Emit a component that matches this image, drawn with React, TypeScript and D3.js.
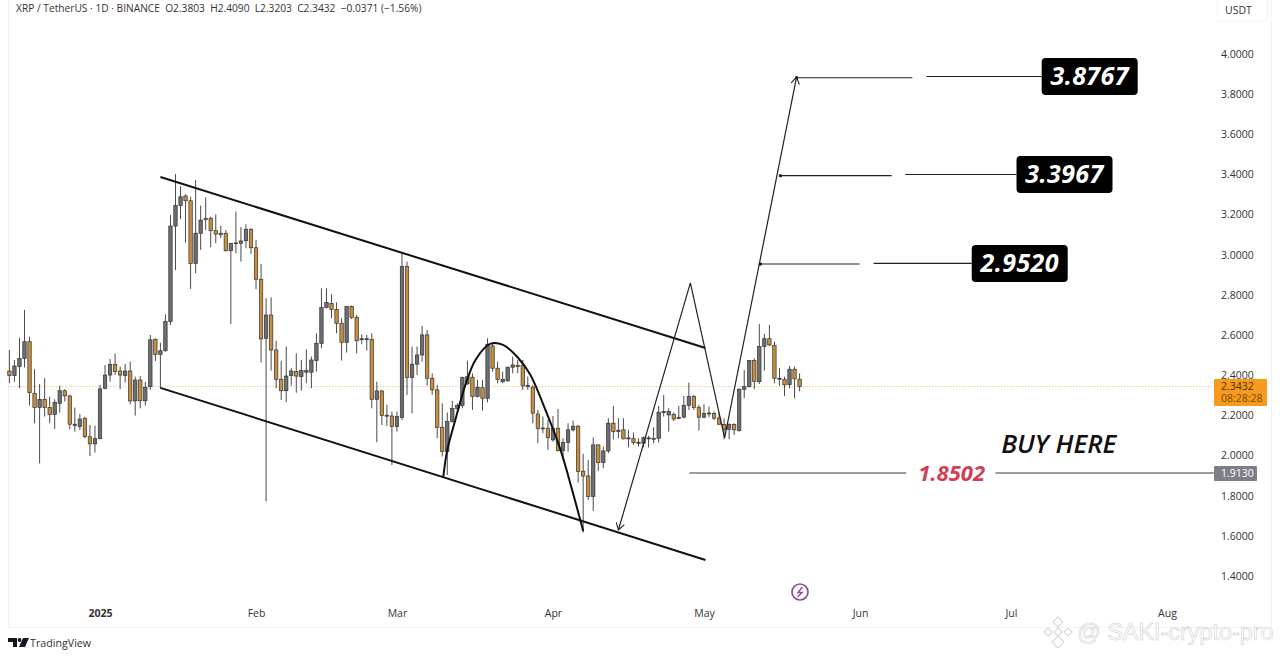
import React, { useEffect, useRef } from 'react';
import * as d3 from 'd3';

const opens = [
  2.421, 2.398, 2.443, 2.484, 2.567, 2.31, 2.24, 2.28, 2.239, 2.205,
  2.26, 2.323, 2.297, 2.149, 2.144, 2.185, 2.094, 2.058, 2.084, 2.335,
  2.401, 2.454, 2.421, 2.398, 2.421, 2.272, 2.376, 2.273, 2.343, 2.579,
  2.504, 2.522, 2.667, 3.143, 3.245, 3.293, 3.269, 2.957, 3.107, 3.18,
  3.182, 3.12, 3.107, 3.107, 3.02, 3.055, 3.057, 3.07, 3.127, 3.035,
  2.878, 2.584, 2.7, 2.526, 2.38, 2.323, 2.398, 2.418, 2.393, 2.415,
  2.415, 2.473, 2.559, 2.737, 2.758, 2.728, 2.659, 2.564, 2.742, 2.687,
  2.577, 2.577, 2.579, 2.28, 2.322, 2.196, 2.197, 2.144, 2.189, 2.941,
  2.388, 2.455, 2.501, 2.601, 2.385, 2.327, 2.139, 2.02, 2.169, 2.235,
  2.249, 2.357, 2.39, 2.294, 2.338, 2.285, 2.546, 2.435, 2.368, 2.372,
  2.44, 2.448, 2.448, 2.343, 2.34, 2.207, 2.133, 2.136, 2.078, 2.136,
  2.025, 2.065, 2.128, 2.146, 1.922, 1.898, 1.796, 2.053, 1.965, 2.023,
  2.161, 2.119, 2.128, 2.083, 2.084, 2.061, 2.061, 2.083, 2.086, 2.086,
  2.214, 2.202, 2.204, 2.184, 2.191, 2.25, 2.295, 2.239, 2.191, 2.207,
  2.209, 2.187, 2.154, 2.131, 2.154, 2.124, 2.33, 2.343, 2.473, 2.368,
  2.543, 2.582, 2.549, 2.38, 2.38, 2.353, 2.43, 2.3803,
];
const closes = [
  2.398, 2.446, 2.484, 2.567, 2.313, 2.24, 2.28, 2.24, 2.205, 2.264,
  2.323, 2.297, 2.156, 2.156, 2.182, 2.094, 2.058, 2.084, 2.332, 2.401,
  2.454, 2.418, 2.401, 2.421, 2.272, 2.376, 2.273, 2.34, 2.576, 2.504,
  2.522, 2.667, 3.143, 3.245, 3.289, 3.269, 2.957, 3.107, 3.173, 3.175,
  3.12, 3.103, 3.1, 3.02, 3.057, 3.059, 3.069, 3.127, 3.035, 2.878,
  2.581, 2.7, 2.526, 2.38, 2.323, 2.396, 2.421, 2.396, 2.423, 2.423,
  2.476, 2.559, 2.737, 2.763, 2.728, 2.659, 2.564, 2.742, 2.687, 2.572,
  2.582, 2.582, 2.28, 2.322, 2.199, 2.201, 2.144, 2.194, 2.941, 2.388,
  2.455, 2.501, 2.601, 2.385, 2.327, 2.139, 2.02, 2.169, 2.235, 2.249,
  2.388, 2.393, 2.294, 2.34, 2.285, 2.554, 2.435, 2.38, 2.38, 2.44,
  2.451, 2.443, 2.347, 2.35, 2.211, 2.134, 2.137, 2.089, 2.136, 2.025,
  2.065, 2.128, 2.146, 1.92, 1.898, 1.796, 2.053, 1.965, 2.023, 2.161,
  2.119, 2.126, 2.083, 2.088, 2.065, 2.066, 2.089, 2.088, 2.081, 2.216,
  2.219, 2.219, 2.182, 2.189, 2.25, 2.294, 2.239, 2.191, 2.209, 2.212,
  2.186, 2.156, 2.131, 2.154, 2.128, 2.33, 2.343, 2.473, 2.37, 2.543,
  2.582, 2.551, 2.385, 2.385, 2.352, 2.43, 2.382, 2.3432,
];
const highs = [
  2.526, 2.476, 2.587, 2.725, 2.592, 2.43, 2.356, 2.385, 2.293, 2.28,
  2.348, 2.33, 2.302, 2.239, 2.207, 2.194, 2.152, 2.149, 2.352, 2.451,
  2.481, 2.509, 2.443, 2.456, 2.468, 2.393, 2.396, 2.368, 2.6, 2.584,
  2.562, 2.703, 3.198, 3.402, 3.342, 3.301, 3.289, 3.372, 3.245, 3.286,
  3.19, 3.201, 3.145, 3.123, 3.057, 3.215, 3.137, 3.152, 3.132, 3.074,
  2.954, 2.783, 2.788, 2.572, 2.471, 2.543, 2.435, 2.509, 2.476, 2.529,
  2.493, 2.609, 2.833, 2.833, 2.803, 2.763, 2.684, 2.745, 2.747, 2.7,
  2.604, 2.601, 2.609, 2.368, 2.327, 2.252, 2.219, 2.219, 3.007, 2.966,
  2.543, 2.543, 2.647, 2.625, 2.41, 2.352, 2.26, 2.214, 2.272, 2.26,
  2.393, 2.473, 2.41, 2.377, 2.376, 2.584, 2.559, 2.468, 2.418, 2.443,
  2.493, 2.476, 2.476, 2.393, 2.352, 2.227, 2.194, 2.177, 2.197, 2.232,
  2.086, 2.161, 2.174, 2.152, 2.008, 1.978, 2.091, 2.056, 2.045, 2.186,
  2.247, 2.186, 2.186, 2.128, 2.114, 2.086, 2.094, 2.098, 2.141, 2.247,
  2.302, 2.235, 2.215, 2.247, 2.297, 2.363, 2.302, 2.252, 2.255, 2.244,
  2.219, 2.214, 2.186, 2.161, 2.161, 2.335, 2.426, 2.476, 2.484, 2.655,
  2.606, 2.65, 2.567, 2.435, 2.393, 2.446, 2.443, 2.409,
];
const lows = [
  2.36, 2.368, 2.335, 2.439, 2.249, 2.161, 1.961, 2.194, 2.161, 2.132,
  2.214, 2.269, 2.131, 2.119, 2.127, 2.086, 1.998, 2.015, 2.081, 2.33,
  2.368, 2.401, 2.33, 2.363, 2.255, 2.199, 2.235, 2.249, 2.327, 2.471,
  2.335, 2.517, 2.65, 2.924, 3.177, 3.06, 2.83, 2.908, 3.024, 3.123,
  3.037, 3.057, 3.082, 3.016, 2.655, 3.007, 2.966, 3.032, 3.004, 2.828,
  2.464, 1.771, 2.423, 2.335, 2.277, 2.265, 2.348, 2.313, 2.323, 2.36,
  2.335, 2.418, 2.534, 2.733, 2.684, 2.609, 2.473, 2.513, 2.68, 2.509,
  2.556, 2.523, 2.235, 2.066, 2.152, 2.147, 1.953, 2.119, 2.177, 2.302,
  2.21, 2.401, 2.468, 2.348, 2.302, 2.086, 1.995, 1.903, 2.164, 2.21,
  2.235, 2.352, 2.227, 2.29, 2.224, 2.265, 2.418, 2.36, 2.36, 2.368,
  2.41, 2.41, 2.327, 2.327, 2.161, 2.061, 2.111, 2.028, 2.069, 2.02,
  1.978, 2.02, 2.119, 1.865, 1.616, 1.779, 1.724, 1.923, 1.937, 2.011,
  2.081, 2.086, 2.081, 2.041, 2.053, 2.045, 2.041, 2.04, 2.061, 2.064,
  2.194, 2.119, 2.172, 2.181, 2.186, 2.227, 2.227, 2.124, 2.186, 2.191,
  2.177, 2.153, 2.081, 2.081, 2.103, 2.119, 2.285, 2.34, 2.33, 2.357,
  2.423, 2.546, 2.36, 2.347, 2.297, 2.335, 2.285, 2.3203,
];

const yTicks = [4, 3.8, 3.6, 3.4, 3.2, 3, 2.8, 2.6, 2.4, 2.2, 2, 1.8, 1.6, 1.4];
const monthLabels = ['2025', 'Feb', 'Mar', 'Apr', 'May', 'Jun', 'Jul', 'Aug'];

// drawings, as [bar index, price]
const upperChannel: [number, number][] = [[30, 3.387], [138.3, 2.536]];
const lowerChannel: [number, number][] = [[30, 2.337], [138.3, 1.48]];
const arc: [number, number][] = [
  [86.2, 1.893], [87, 2.028], [88.6, 2.177], [90.6, 2.352], [92.6, 2.476], [95.5, 2.556], [98.1, 2.551],
  [101.1, 2.486], [103.5, 2.402], [106.5, 2.227], [109.5, 2.028], [111.8, 1.829], [114, 1.624],
];
const zigzag: [number, number][] = [[121, 1.629], [135.3, 2.86], [142.1, 2.088], [156.4, 3.885]];

const targetLabels = ['3.8767', '3.3967', '2.9520'];
const targetLeft: [number, number, number][] = [[156.4, 179.4, 3.882], [153.2, 175.3, 3.394], [149.2, 168.9, 2.954]];
const targetRight: [number, number, number][] = [[182.2, 205.1, 3.888], [178, 200.1, 3.4], [171.7, 191.2, 2.957]];
const lastPrice = 2.3432;
const buyPrice = 1.913;

const FONT = '"Open Sans", sans-serif';
const ORANGE = '#c98d3c';
const GRAY = '#6e6e72';
const WIDTH = 1280;
const HEIGHT = 658;

export default function App() {
  const ref = useRef<SVGSVGElement | null>(null);

  useEffect(() => {
    const svg = d3.select(ref.current);
    svg.selectAll('*').remove();

    const firstBar = Date.UTC(2024, 11, 14);
    const xScale = d3.scaleUtc()
      .domain([new Date(Date.UTC(2025, 0, 1)), new Date(Date.UTC(2025, 7, 1))])
      .range([100, 1167]);
    const barX = (i: number) => xScale(new Date(firstBar + i * 86400000));
    const yScale = d3.scaleLinear().domain([4, 1.4]).range([54, 576]);
    const pt = (d: [number, number]): [number, number] => [barX(d[0]), yScale(d[1])];
    const line = d3.line<[number, number]>().x(d => pt(d)[0]).y(d => pt(d)[1]);

    // frame
    svg.append('rect').attr('width', WIDTH).attr('height', HEIGHT).attr('fill', '#fff');
    svg.append('path').attr('d', 'M8.5 0V627.5H1271.5V0').attr('fill', 'none').attr('stroke', '#f3f3f3');

    // header
    svg.append('text').attr('x', 16).attr('y', 12).attr('font-size', 10.2).attr('fill', '#333')
      .attr('font-family', FONT)
      .attr('xml:space', 'preserve')
      .text('XRP / TetherUS · 1D · BINANCE  O2.3803  H2.4090  L2.3203  C2.3432  −0.0371 (−1.56%)');

    // last price line
    svg.append('line').attr('x1', 8).attr('x2', 1214).attr('y1', yScale(lastPrice)).attr('y2', yScale(lastPrice))
      .attr('stroke', '#eccb94').attr('stroke-dasharray', '1.5 1.5');

    // candles
    const bars = d3.range(opens.length);
    const g = svg.append('g');
    g.selectAll('line.wick').data(bars).join('line').attr('class', 'wick')
      .attr('x1', i => barX(i)).attr('x2', i => barX(i))
      .attr('y1', i => yScale(highs[i])).attr('y2', i => yScale(lows[i]))
      .attr('stroke', '#4a4a4a').attr('stroke-width', 1);
    g.selectAll('rect.body').data(bars).join('rect').attr('class', 'body')
      .attr('x', i => barX(i) - 1.7).attr('width', 3.4)
      .attr('y', i => yScale(Math.max(opens[i], closes[i])))
      .attr('height', i => Math.max(0.6, Math.abs(yScale(opens[i]) - yScale(closes[i]))))
      .attr('fill', i => (closes[i] >= opens[i] ? GRAY : ORANGE))
      .attr('stroke', '#333').attr('stroke-width', 0.7);

    // channel, arc, zigzag
    [upperChannel, lowerChannel].forEach(c => {
      svg.append('path').attr('d', line(c)).attr('fill', 'none').attr('stroke', '#111').attr('stroke-width', 2);
    });
    svg.append('path').attr('d', line.curve(d3.curveCatmullRom)(arc)).attr('fill', 'none')
      .attr('stroke', '#111').attr('stroke-width', 2);
    line.curve(d3.curveLinear);
    svg.append('path').attr('d', line(zigzag)).attr('fill', 'none').attr('stroke', '#222').attr('stroke-width', 1.2);

    const arrowHead = (from: [number, number], to: [number, number]) => {
      const [x0, y0] = pt(from);
      const [x1, y1] = pt(to);
      const a = Math.atan2(y1 - y0, x1 - x0);
      const arm = (da: number) => `${x1 - 8 * Math.cos(a + da)},${y1 - 8 * Math.sin(a + da)}`;
      svg.append('path').attr('d', `M${arm(0.55)}L${x1},${y1}L${arm(-0.55)}`)
        .attr('fill', 'none').attr('stroke', '#222').attr('stroke-width', 1.1);
    };
    arrowHead(zigzag[1], zigzag[0]);
    arrowHead(zigzag[2], zigzag[3]);

    // targets
    targetLabels.forEach((label, i) => {
      const [a0, a1, p0] = targetLeft[i];
      const [b0, b1, p1] = targetRight[i];
      svg.append('line').attr('x1', barX(a0)).attr('x2', barX(a1)).attr('y1', yScale(p0)).attr('y2', yScale(p0))
        .attr('stroke', '#222').attr('stroke-width', 1.1);
      svg.append('line').attr('x1', barX(b0)).attr('x2', barX(b1)).attr('y1', yScale(p1)).attr('y2', yScale(p1))
        .attr('stroke', '#222').attr('stroke-width', 1.1);
      svg.append('circle').attr('cx', barX(a0)).attr('cy', yScale(p0)).attr('r', 1.7).attr('fill', '#222');
      const bx = barX(b1);
      const by = yScale(p1);
      svg.append('rect').attr('x', bx).attr('y', by - 18.5).attr('width', 96).attr('height', 37).attr('rx', 4).attr('fill', '#000');
      svg.append('text').attr('x', bx + 48).attr('y', by + 9).attr('text-anchor', 'middle')
        .attr('font-family', FONT).attr('font-weight', 700).attr('font-style', 'italic')
        .attr('font-size', 25).attr('letter-spacing', 0.4).attr('fill', '#fff').text(label);
    });

    // buy line
    const by = yScale(buyPrice);
    [[135.1, 178.2], [195.9, 239.3]].forEach(([a, b]) => {
      svg.append('line').attr('x1', barX(a)).attr('x2', barX(b)).attr('y1', by).attr('y2', by)
        .attr('stroke', '#7d7d7d').attr('stroke-width', 1.6);
    });
    svg.append('text').attr('x', barX(187.2)).attr('y', by + 7.5).attr('text-anchor', 'middle')
      .attr('font-family', FONT).attr('font-weight', 700).attr('font-style', 'italic')
      .attr('font-size', 22).attr('fill', '#d23f55').text('1.8502');
    svg.append('text').attr('x', barX(208.5)).attr('y', yScale(2.058) + 9).attr('text-anchor', 'middle')
      .attr('font-family', FONT).attr('font-weight', 600).attr('font-style', 'italic')
      .attr('font-size', 26).attr('fill', '#111').text('BUY HERE');

    // y axis
    const yAxis = d3.axisRight(yScale).tickValues(yTicks).tickFormat(d3.format('.4f') as any).tickSize(0).tickPadding(0);
    const yG = svg.append('g').attr('transform', 'translate(1221,0)').call(yAxis);
    yG.select('.domain').remove();
    yG.selectAll('text').attr('font-family', FONT).attr('font-size', 10.5).attr('fill', '#333');

    // x axis
    const xAxis = d3.axisBottom(xScale).tickValues(d3.utcMonth.range(new Date(Date.UTC(2025, 0, 1)), new Date(Date.UTC(2025, 7, 2))))
      .tickFormat((_, i) => monthLabels[i]).tickSize(0).tickPadding(0);
    const xG = svg.append('g').attr('transform', 'translate(0,610)').call(xAxis);
    xG.select('.domain').remove();
    xG.selectAll('text').attr('font-family', FONT).attr('font-size', 10.5).attr('fill', '#333')
      .attr('font-weight', (_, i) => (i === 0 ? 700 : 400));

    // price tags
    svg.append('rect').attr('x', 1214).attr('y', 379).attr('width', 53).attr('height', 27).attr('rx', 1).attr('fill', '#f79b1e');
    svg.append('text').attr('x', 1221).attr('y', yScale(lastPrice) + 3.5).attr('font-family', FONT).attr('font-size', 10.5)
      .attr('fill', '#4d3300').text('2.3432');
    svg.append('text').attr('x', 1221).attr('y', 402).attr('font-family', FONT).attr('font-size', 10.5)
      .attr('fill', '#7a4a05').text('08:28:28');
    svg.append('rect').attr('x', 1214).attr('y', by - 7).attr('width', 43).attr('height', 15).attr('rx', 1).attr('fill', '#7f7f89');
    svg.append('text').attr('x', 1221).attr('y', by + 4).attr('font-family', FONT).attr('font-size', 10.5)
      .attr('fill', '#fff').text('1.9130');
    svg.append('rect').attr('x', 1217).attr('y', -2).attr('width', 50).attr('height', 23).attr('rx', 3)
      .attr('fill', '#fff').attr('stroke', '#f2f2f2');
    svg.append('text').attr('x', 1225).attr('y', 14).attr('font-family', FONT).attr('font-size', 10.5).attr('fill', '#333').text('USDT');

    // lightning badge
    svg.append('circle').attr('cx', 800).attr('cy', 592).attr('r', 8).attr('fill', '#fff').attr('stroke', '#8e4a9e').attr('stroke-width', 1.7);
    svg.append('path').attr('d', 'M802.5 587L798 592.5H802L797.5 597').attr('fill', 'none').attr('stroke', '#8e4a9e').attr('stroke-width', 1.4);

    // tradingview logo
    svg.append('path').attr('d', 'M8 638H17V647H13V642H8ZM23 638H29L25 647H19Z').attr('fill', '#131722');
    svg.append('circle').attr('cx', 19.5).attr('cy', 640).attr('r', 1.9).attr('fill', '#131722');
    svg.append('text').attr('x', 30).attr('y', 646.5).attr('font-family', FONT).attr('font-size', 10.7).attr('fill', '#333').text('TradingView');

    // watermark
    const diamonds = [[1058, 622, 5], [1048, 632, 4], [1058, 632, 4], [1068, 632, 4], [1058, 642, 6]];
    diamonds.forEach(([x, y, s]) => {
      svg.append('path').attr('d', `M${x} ${y - s}L${x + s} ${y}L${x} ${y + s}L${x - s} ${y}Z`)
        .attr('fill', '#fff').attr('stroke', '#d8d8d8').attr('stroke-width', 1.2);
    });
    svg.append('text').attr('x', 1077).attr('y', 640).attr('font-family', '"Liberation Sans", sans-serif')
      .attr('font-size', 23.4).attr('fill', '#fff').attr('stroke', '#cfcfcf').attr('stroke-width', 0.6).text('@ SAKI-crypto-pro');
  }, []);

  return <svg ref={ref} width={WIDTH} height={HEIGHT} style={{ position: 'absolute', left: 0, top: 0 }} />;
}
